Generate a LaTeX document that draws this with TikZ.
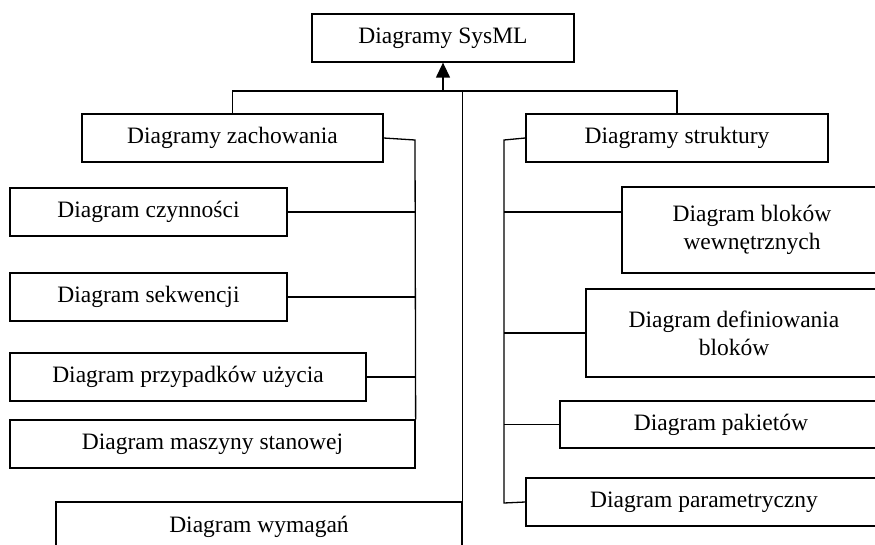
\documentclass[tikz,border=0pt]{standalone}
\usepackage{fontspec}
\setmainfont{Liberation Serif}
\usetikzlibrary{arrows.meta}

\begin{document}
\begin{tikzpicture}[x=1pt, y=-1pt, line width=1.3pt,
      every node/.style={font=\fontsize{23.5}{28}\selectfont},
      box/.style={draw, rectangle, inner sep=0pt, align=center}]
    \clip (0,0) rectangle (875,545);
    % root and the two groups
    \node[box, minimum width=262, minimum height=48] (root) at (443,38) {Diagramy SysML};
    \node[box, minimum width=301, minimum height=48] (zach) at (232.5,138) {Diagramy zachowania};
    \node[box, minimum width=302, minimum height=48] (strukt) at (677,138) {Diagramy struktury};
    % behaviour diagrams
    \node[box, minimum width=277, minimum height=48] (czyn) at (148.5,212) {Diagram czynności};
    \node[box, minimum width=277, minimum height=48] (sekw) at (148.5,297) {Diagram sekwencji};
    \node[box, minimum width=356, minimum height=48] (przyp) at (188,377) {Diagram przypadków użycia};
    \node[box, minimum width=405, minimum height=48] (masz) at (212.5,444) {Diagram maszyny stanowej};
    % structure diagrams
    \node[box, minimum width=260, minimum height=86] (blok) at (752,230) {Diagram bloków\\wewnętrznych};
    \node[box, minimum width=296, minimum height=88] (defi) at (734,333) {Diagram definiowania\\bloków};
    \node[box, minimum width=322, minimum height=47] (pak) at (721,424.5) {Diagram pakietów};
    \node[box, minimum width=356, minimum height=48] (param) at (704,502) {Diagram parametryczny};
    % requirements
    \node[box, minimum width=406, minimum height=50] (wym) at (259,527) {Diagram wymagań};

    \coordinate (bar) at (443,91);
    \coordinate (ltop) at (415,140);
    \coordinate (rtop) at (504,140);
    \coordinate (rbot) at (504,503);
    \coordinate (bk) at ([yshift=18pt]blok.west);

    \draw[-{Triangle[length=15pt,width=14pt]}] (bar) -- (root.south);
    \draw (zach.north) |- (bar) -| (strukt.north);
    \draw (bar -| wym.north east) -- (wym.north east);
    \draw (zach.east) -- (ltop) -- (masz.north east);
    \foreach \n in {czyn,sekw,przyp}
      \draw (\n.east) -- (\n.east -| ltop);
    \draw (strukt.west) -- (rtop) -- (rbot) -- (param.west);
    \draw (bk) -- (bk -| rtop);
    \foreach \n in {defi,pak}
      \draw (\n.west) -- (\n.west -| rtop);
  \end{tikzpicture}
\end{document}
